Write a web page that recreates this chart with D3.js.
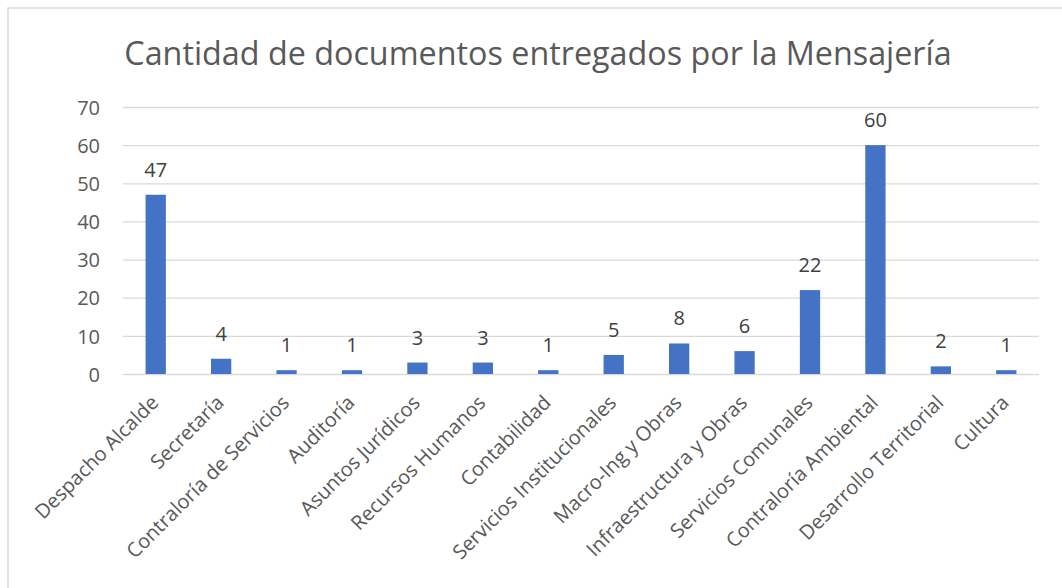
<!DOCTYPE html>
<html>
<head>
<meta charset="utf-8">
<script src="https://cdn.jsdelivr.net/npm/d3@7"></script>
<style>
  body { margin: 0; background: #fff; }
  svg { display: block; font-family: "Open Sans", sans-serif; }
</style>
</head>
<body>
<svg id="chart" width="1062" height="588"></svg>
<script>
// data
var categories = ["Despacho Alcalde", "Secretaría", "Contraloría de Servicios", "Auditoría",
  "Asuntos Jurídicos", "Recursos Humanos", "Contabilidad", "Servicios Institucionales",
  "Macro-Ing y Obras", "Infraestructura y Obras", "Servicios Comunales",
  "Contraloría Ambiental", "Desarrollo Territorial", "Cultura"];
var values = [47, 4, 1, 1, 3, 3, 1, 5, 8, 6, 22, 60, 2, 1];
var yTicks = [0, 10, 20, 30, 40, 50, 60, 70];
var title = "Cantidad de documentos entregados por la Mensajería";

var svg = d3.select("svg#chart");

// chart frame
svg.append("rect")
  .attr("x", 8).attr("y", 8)
  .attr("width", 1070).attr("height", 600)
  .attr("fill", "none")
  .attr("stroke", "#d9d9d9")
  .attr("stroke-width", 1.5);

var mLeft = 123, mRight = 1039, mTop = 107, mBottom = 374;

var x = d3.scaleBand()
  .domain(categories)
  .range([mLeft, mRight])
  .paddingInner(0.69)
  .paddingOuter(0.345);

var y = d3.scaleLinear()
  .domain([0, 70])
  .range([mBottom, mTop]);

// title
svg.append("text")
  .attr("x", 538)
  .attr("y", 65)
  .attr("text-anchor", "middle")
  .attr("fill", "#595959")
  .attr("font-size", 32.3)
  .text(title);

// gridlines + y labels
var yAxis = d3.axisLeft(y)
  .tickValues(yTicks)
  .tickSize(-(mRight - mLeft))
  .tickPadding(23);

var ga = svg.append("g")
  .attr("transform", "translate(" + mLeft + ",0)")
  .call(yAxis);
ga.select(".domain").remove();
ga.selectAll(".tick line")
  .attr("stroke", "#d9d9d9")
  .attr("stroke-width", 1.3);
ga.selectAll(".tick text")
  .attr("fill", "#595959")
  .attr("font-size", 20)
  .attr("font-family", "Open Sans, sans-serif")
  .attr("dy", "0.36em");

// bars
svg.selectAll("rect.bar")
  .data(values)
  .enter()
  .append("rect")
  .attr("class", "bar")
  .attr("x", function(d, i){ return x(categories[i]); })
  .attr("y", function(d){ return y(d); })
  .attr("width", x.bandwidth())
  .attr("height", function(d){ return y(0) - y(d); })
  .attr("fill", "#4472c4");

// data labels
svg.selectAll("text.vlabel")
  .data(values)
  .enter()
  .append("text")
  .attr("class", "vlabel")
  .attr("x", function(d, i){ return x(categories[i]) + x.bandwidth() / 2; })
  .attr("y", function(d){ return y(d) - 18; })
  .attr("text-anchor", "middle")
  .attr("fill", "#404040")
  .attr("font-size", 20)
  .text(function(d){ return d; });

// category labels
svg.selectAll("text.clabel")
  .data(categories)
  .enter()
  .append("text")
  .attr("class", "clabel")
  .attr("transform", function(d){
    return "translate(" + (x(d) + x.bandwidth() / 2 - 6) + "," + (mBottom + 20) + ") rotate(-45)";
  })
  .attr("text-anchor", "end")
  .attr("dy", "0.7em")
  .attr("fill", "#595959")
  .attr("font-size", 20)
  .text(function(d){ return d; });
</script>
</body>
</html>
